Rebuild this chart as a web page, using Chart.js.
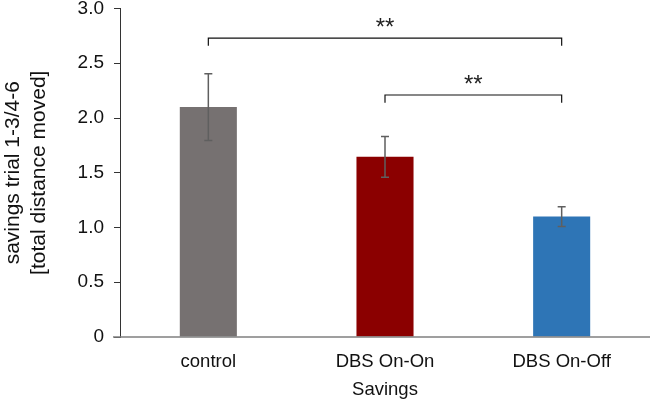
<!DOCTYPE html>
<html>
<head>
<meta charset="utf-8">
<script src="https://cdn.jsdelivr.net/npm/chart.js@4"></script>
<style>
  html, body { margin: 0; padding: 0; background: #fff; }
  #wrap { width: 650px; height: 403px; }
</style>
</head>
<body>
<div id="wrap"><canvas id="savingsChart"></canvas></div>
<script>
const categories = ['control', 'DBS On-On', 'DBS On-Off'];
const means = [2.10, 1.645, 1.10];
const errors = [0.305, 0.187, 0.09];
const barColors = ['#767171', '#8b0000', '#2e75b6'];
const yTicks = [0, 0.5, 1.0, 1.5, 2.0, 2.5, 3.0];

// significance brackets: category pairs, bracket height (data units), label
const sigPairs = [[0, 2], [1, 2]];
const sigHeights = [2.73, 2.21];
const sigLabels = ['**', '**'];

const FONT = 'Liberation Sans, Arial, sans-serif';

const extrasPlugin = {
  id: 'extras',
  afterDatasetsDraw(chart) {
    const ctx = chart.ctx;
    const xs = chart.scales.x;
    const ys = chart.scales.y;
    const area = chart.chartArea;
    ctx.save();

    // baseline
    ctx.strokeStyle = '#7f7f7f';
    ctx.lineWidth = 1.5;
    ctx.beginPath();
    ctx.moveTo(area.left - 7, ys.getPixelForValue(0));
    ctx.lineTo(area.right + 2, ys.getPixelForValue(0));
    ctx.stroke();

    // error bars
    ctx.strokeStyle = '#5f5f5f';
    ctx.lineWidth = 1.5;
    means.forEach(function(m, i) {
      const x = xs.getPixelForValue(i);
      const top = ys.getPixelForValue(m + errors[i]);
      const bot = ys.getPixelForValue(m - errors[i]);
      ctx.beginPath();
      ctx.moveTo(x, top); ctx.lineTo(x, bot);
      ctx.moveTo(x - 4, top); ctx.lineTo(x + 4, top);
      ctx.moveTo(x - 4, bot); ctx.lineTo(x + 4, bot);
      ctx.stroke();
    });

    // significance brackets
    ctx.strokeStyle = '#111';
    ctx.lineWidth = 1.2;
    ctx.fillStyle = '#222';
    ctx.font = '24px ' + FONT;
    ctx.textAlign = 'center';
    ctx.textBaseline = 'middle';
    sigPairs.forEach(function(p, i) {
      const x1 = xs.getPixelForValue(p[0]);
      const x2 = xs.getPixelForValue(p[1]);
      const y = ys.getPixelForValue(sigHeights[i]);
      const yd = ys.getPixelForValue(sigHeights[i] - 0.07);
      ctx.beginPath();
      ctx.moveTo(x1, yd); ctx.lineTo(x1, y); ctx.lineTo(x2, y); ctx.lineTo(x2, yd);
      ctx.stroke();
      ctx.fillText(sigLabels[i], (x1 + x2) / 2, y - 10);
    });

    ctx.restore();
  }
};

new Chart(document.getElementById('savingsChart'), {
  type: 'bar',
  data: {
    labels: categories,
    datasets: [{
      data: means,
      backgroundColor: barColors,
      borderWidth: 0,
      categoryPercentage: 1.0,
      barPercentage: 0.323
    }]
  },
  options: {
    responsive: true,
    maintainAspectRatio: false,
    animation: false,
    layout: { padding: { top: 0, right: 0, bottom: 0, left: 0 } },
    plugins: {
      legend: { display: false },
      tooltip: { enabled: false }
    },
    scales: {
      x: {
        grid: { display: false },
        border: { display: false },
        ticks: { font: { size: 18.5, family: FONT }, color: '#111', padding: 6 },
        title: {
          display: true,
          text: 'Savings',
          font: { size: 18.5, family: FONT },
          color: '#111',
          padding: { top: 0, bottom: 2 }
        },
        afterFit: function(scale) { scale.height = 66; }
      },
      y: {
        min: 0,
        max: 3,
        afterBuildTicks: function(scale) {
          scale.ticks = yTicks.map(function(v) { return { value: v }; });
        },
        grid: { drawOnChartArea: false, drawTicks: true, tickLength: 6, color: '#333' },
        border: { color: '#333', width: 1 },
        ticks: {
          font: { size: 19, family: FONT },
          color: '#111',
          padding: 10,
          callback: function(v) { return v === 0 ? '0' : v.toFixed(1); }
        },
        title: {
          display: true,
          text: ['savings trial 1-3/4-6', '[total distance moved]'],
          font: { size: 21, family: FONT, lineHeight: 1.2 },
          color: '#111',
          padding: { top: 1, bottom: 0 }
        },
        afterFit: function(scale) {
          scale.width = 120;
          scale.paddingTop = 8.5;
          scale.paddingBottom = 0;
        }
      }
    }
  },
  plugins: [extrasPlugin]
});
</script>
</body>
</html>
